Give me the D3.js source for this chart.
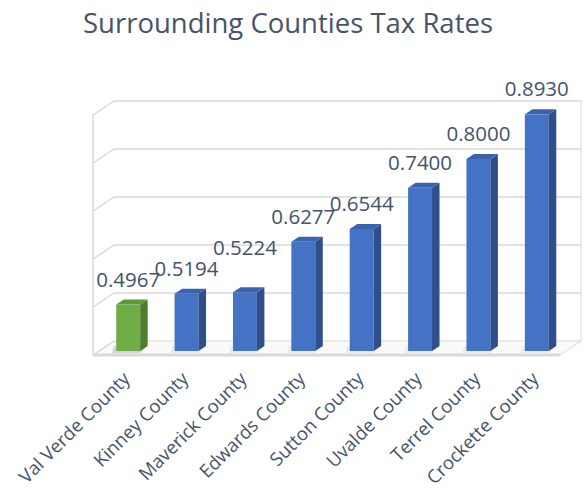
<!DOCTYPE html>
<html lang="en">
<head>
    <meta charset="UTF-8">
    <title>Surrounding Counties Tax Rates</title>
    <script type="application/javascript" src="https://d3js.org/d3.v7.min.js"></script>
    <style>
        body { margin: 0; background: #ffffff; }
        text { font-family: "Open Sans", "Liberation Sans", sans-serif; fill: #44546A; }
    </style>
</head>
<body>
<svg width="588" height="493"></svg>
<script type="application/javascript">
    // chart data
    var counties = ["Val Verde County", "Kinney County", "Maverick County", "Edwards County",
        "Sutton County", "Uvalde County", "Terrel County", "Crockette County"];
    var taxRates = [0.4967, 0.5194, 0.5224, 0.6277, 0.6544, 0.7400, 0.8000, 0.8930];
    var highlight = ["Val Verde County"];
    var gridTicks = [0.4, 0.5, 0.6, 0.7, 0.8, 0.9];

    var svg = d3.select("svg");

    // back wall of the 3d box
    var wallLeft = 114, wallRight = 581, wallTop = 101, wallBottom = 341;
    var slant = 1.5;       // x shift per px of depth
    var floorDepth = 14;   // front edge of floor
    var barFront = 10, barBack = 5;

    function px(x, d) { return x - slant * d; }
    function py(y, d) { return y + d; }

    var x = d3.scaleBand()
        .domain(counties)
        .range([wallLeft, wallRight]);
    var y = d3.scaleLinear()
        .domain([0.4, 0.9])
        .range([wallBottom, wallTop]);

    // title
    svg.append("text")
        .attr("x", 288)
        .attr("y", 33)
        .attr("text-anchor", "middle")
        .style("font-size", "27.5px")
        .text("Surrounding Counties Tax Rates");

    var lineColor = "#d9d9d9";

    // floor
    svg.append("polygon")
        .attr("points", [
            [wallLeft, wallBottom], [wallRight, wallBottom],
            [px(wallRight, floorDepth), py(wallBottom, floorDepth)],
            [px(wallLeft, floorDepth), py(wallBottom, floorDepth)]
        ].join(" "))
        .attr("fill", "#fafafa")
        .attr("stroke", lineColor)
        .attr("stroke-width", 1);

    // gridlines on back wall and left side wall
    var grid = svg.append("g");
    grid.selectAll(".grid")
        .data(gridTicks.slice(1))
        .enter()
        .append("line")
        .attr("class", "grid")
        .attr("x1", wallLeft)
        .attr("x2", wallRight)
        .attr("y1", function (d) { return y(d); })
        .attr("y2", function (d) { return y(d); })
        .attr("stroke", lineColor)
        .attr("stroke-width", 1.5);
    grid.selectAll(".side")
        .data(gridTicks)
        .enter()
        .append("line")
        .attr("class", "side")
        .attr("x1", wallLeft)
        .attr("x2", px(wallLeft, floorDepth))
        .attr("y1", function (d) { return y(d); })
        .attr("y2", function (d) { return py(y(d), floorDepth); })
        .attr("stroke", lineColor)
        .attr("stroke-width", 1.5);
    grid.append("line")
        .attr("x1", px(wallLeft, floorDepth))
        .attr("x2", px(wallLeft, floorDepth))
        .attr("y1", py(wallTop, floorDepth))
        .attr("y2", py(wallBottom, floorDepth))
        .attr("stroke", lineColor)
        .attr("stroke-width", 1.5);
    grid.append("line")
        .attr("x1", wallRight)
        .attr("x2", wallRight)
        .attr("y1", wallTop)
        .attr("y2", wallBottom)
        .attr("stroke", lineColor)
        .attr("stroke-width", 1);
    // front edge of floor
    grid.append("line")
        .attr("x1", px(wallLeft, floorDepth))
        .attr("x2", px(wallRight, floorDepth))
        .attr("y1", py(wallBottom, floorDepth))
        .attr("y2", py(wallBottom, floorDepth))
        .attr("stroke", lineColor)
        .attr("stroke-width", 3);

    var data = counties.map(function (c, i) {
        return { county: c, rate: taxRates[i], hi: highlight.indexOf(c) >= 0 };
    });

    var barW = x.bandwidth() * 0.41;
    var blue = { front: "#4472C4", side: "#2F4F8A", top: "#3A63AE" };
    var green = { front: "#70AD47", side: "#4E7D30", top: "#5E963A" };

    function frontX(d) { return px(x(d.county) + x.bandwidth() / 2, barFront) - barW / 2; }
    function frontTop(d) { return py(y(d.rate), barFront); }
    var frontBottom = py(y(0.4), barFront);
    var dxB = slant * (barFront - barBack), dyB = barFront - barBack;

    var bars = svg.selectAll(".bar")
        .data(data)
        .enter()
        .append("g")
        .attr("class", "bar");

    // soft shadow on floor
    bars.append("polygon")
        .attr("points", function (d) {
            var x0 = frontX(d);
            return [[x0 - 4, frontBottom + 2], [x0 + barW, frontBottom + 2],
                [x0 + barW + dxB, frontBottom - dyB], [x0 + dxB - 10, frontBottom - dyB]].join(" ");
        })
        .attr("fill", "#000")
        .attr("opacity", function (d) { return d.hi ? 0.15 : 0.06; });

    bars.append("rect")
        .attr("x", frontX)
        .attr("y", frontTop)
        .attr("width", barW)
        .attr("height", function (d) { return frontBottom - frontTop(d); })
        .attr("fill", function (d) { return d.hi ? green.front : blue.front; });

    bars.append("polygon")
        .attr("points", function (d) {
            var x1 = frontX(d) + barW, t = frontTop(d);
            return [[x1, t], [x1 + dxB, t - dyB], [x1 + dxB, frontBottom - dyB], [x1, frontBottom]].join(" ");
        })
        .attr("fill", function (d) { return d.hi ? green.side : blue.side; });

    bars.append("polygon")
        .attr("points", function (d) {
            var x0 = frontX(d), t = frontTop(d);
            return [[x0, t], [x0 + barW, t], [x0 + barW + dxB, t - dyB], [x0 + dxB, t - dyB]].join(" ");
        })
        .attr("fill", function (d) { return d.hi ? green.top : blue.top; });

    // value labels, pushed up when they would sit on top of the previous one
    var prevY = null;
    data.forEach(function (d) {
        var ly = frontTop(d) - 18;
        if (prevY !== null && Math.abs(ly - prevY) < 6) {
            ly = prevY - 21;
        }
        d.labelY = ly;
        prevY = ly;
    });
    svg.selectAll(".value")
        .data(data)
        .enter()
        .append("text")
        .attr("class", "value")
        .attr("x", function (d) { return frontX(d) + barW / 2; })
        .attr("y", function (d) { return d.labelY; })
        .attr("text-anchor", "middle")
        .style("font-size", "20.5px")
        .text(function (d) { return d.rate.toFixed(4); });

    // category labels
    svg.selectAll(".cat")
        .data(data)
        .enter()
        .append("text")
        .attr("class", "cat")
        .attr("text-anchor", "end")
        .attr("transform", function (d) {
            return "translate(" + (frontX(d) + barW / 2 + 3) + "," + (py(wallBottom, floorDepth) + 25) + ") rotate(-45)";
        })
        .style("font-size", "18.5px")
        .text(function (d) { return d.county; });
</script>
</body>
</html>
